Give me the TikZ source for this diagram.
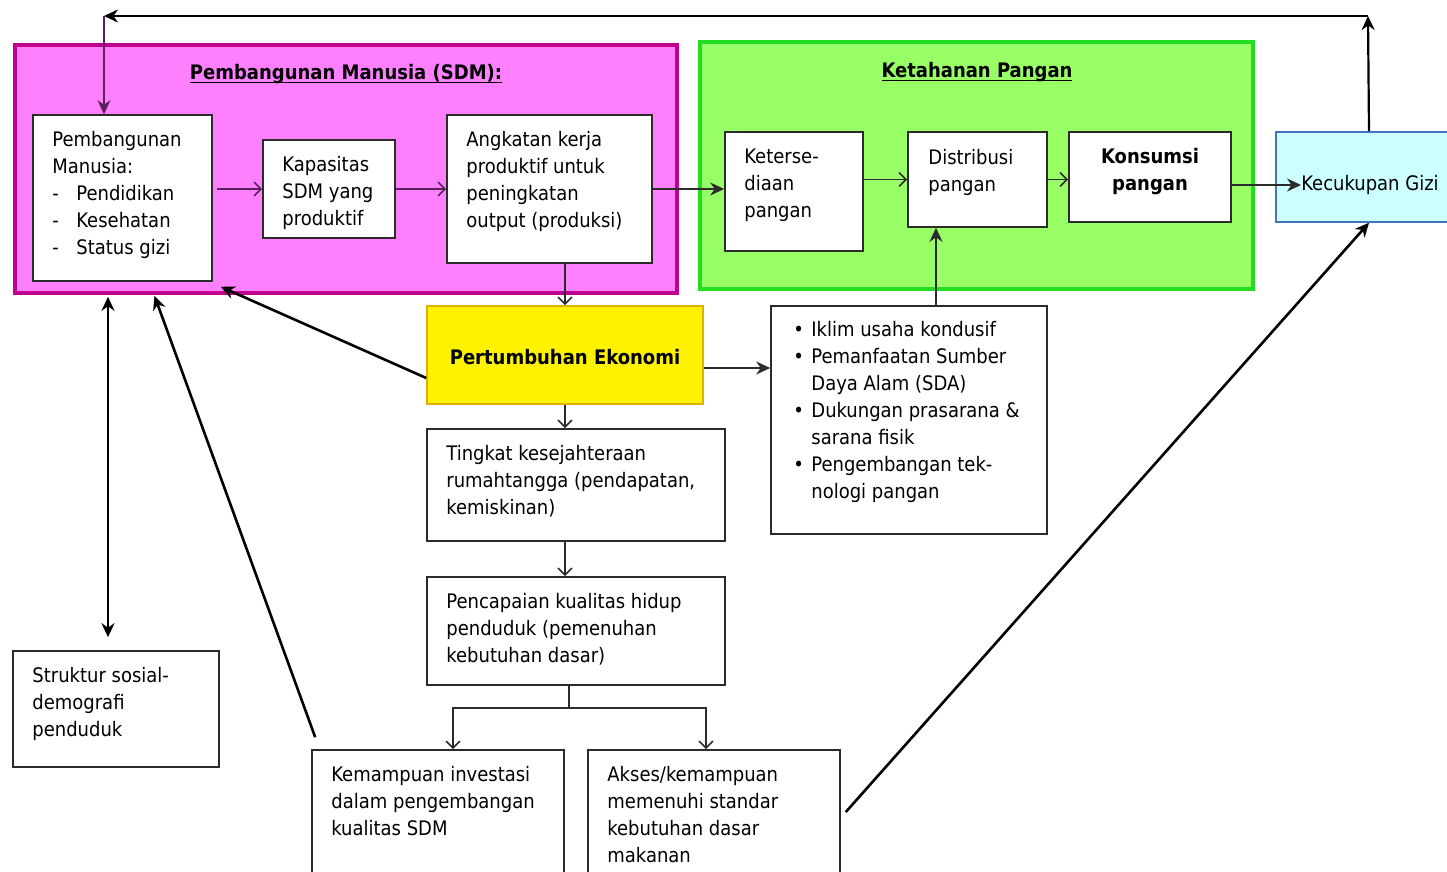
\documentclass[tikz,border=0pt]{standalone}
\usepackage{fontspec}
\setmainfont{DejaVu Sans Condensed}
\usepackage{xcolor}
\usetikzlibrary{arrows.meta,positioning,fit}
\definecolor{ink}{HTML}{2B2B2B}
\definecolor{plum}{HTML}{5A2160}
\definecolor{sdmFill}{HTML}{FF80FF}
\definecolor{sdmLine}{HTML}{C0008C}
\definecolor{panFill}{HTML}{99FF66}
\definecolor{panLine}{HTML}{22DD22}
\definecolor{giziFill}{HTML}{CCFFFF}
\definecolor{giziLine}{HTML}{4472C4}
\definecolor{ekoLine}{HTML}{E0B000}
\newcommand{\dsh}{\makebox[12pt][l]{-}}
\newcommand{\blt}{\makebox[9pt][l]{\textbullet}}
\newcommand{\bsp}{\hspace*{9pt}}
\newcommand{\ttline}[1]{\underline{\smash{#1}}}

\begin{document}
\begin{tikzpicture}[x=0.5pt,y=-0.5pt,font=\fontsize{10}{13.5}\selectfont,
  box/.style={draw=ink,fill=white,line width=0.8pt,inner sep=0pt},
  txt/.style={anchor=north west,align=left,inner sep=0pt},
  ttl/.style={font=\bfseries\fontsize{10}{13.5}\selectfont},
  arr/.style={-{Straight Barb[length=3.5pt,width=7pt]},ink,line width=0.8pt},
  thk/.style={-{Stealth[length=7pt,width=6.5pt]},black,line width=1.3pt}]
\useasboundingbox (0,0) rectangle (1447,872);
% the two big groups
\node[fit={(15,45) (677,293)},inner sep=0pt,draw=sdmLine,fill=sdmFill,line width=1.6pt] (sdm) {};
\node[ttl] (sdm-t) at (346,82) {\ttline{Pembangunan Manusia (SDM):}};
\node[fit={(700,42) (1253,289)},inner sep=0pt,draw=panLine,fill=panFill,line width=1.6pt] (pan) {};
\node[ttl] (pan-t) at (977,80) {\ttline{Ketahanan Pangan}};
% boxes
\node[box,fit={(33,115) (212,281)}] (pm) {};
\node[txt] (pm-t) at (52,131) {Pembangunan\\Manusia:\\\dsh Pendidikan\\\dsh Kesehatan\\\dsh Status gizi};
\node[box,fit={(263,140) (395,238)}] (kap) {};
\node[txt] (kap-t) at (282,156) {Kapasitas\\SDM yang\\produktif};
\node[box,fit={(447,115) (652,263)}] (ang) {};
\node[txt] (ang-t) at (466,131) {Angkatan kerja\\produktif untuk\\peningkatan\\output (produksi)};
\node[box,fit={(725,132) (863,251)}] (ket) {};
\node[txt] (ket-t) at (744,149) {Keterse-\\diaan\\pangan};
\node[box,fit={(908,132) (1047,227)}] (dis) {};
\node[txt] (dis-t) at (928,149) {Distribusi\\pangan};
\node[box,fit={(1069,132) (1231,222)}] (kon) {};
\node[ttl,align=center] (kon-t) at (1150,172) {Konsumsi\\pangan};
\node[box,fit={(1276,132) (1462,222)},draw=giziLine,fill=giziFill] (gizi) {};
\node[anchor=west,inner sep=0pt] (gizi-t) at (1301,185) {Kecukupan Gizi};
\node[box,fit={(427,306) (703,404)},draw=ekoLine,fill=yellow] (eko) {};
\node[ttl] (eko-t) at (565,357) {Pertumbuhan Ekonomi};
\node[box,fit={(771,306) (1047,534)}] (fak) {};
\node[txt] (fak-t) at (793,321) {\blt Iklim usaha kondusif\\\blt Pemanfaatan Sumber\\\bsp Daya Alam (SDA)\\\blt Dukungan prasarana \&\\\bsp sarana fisik\\\blt Pengembangan tek-\\\bsp nologi pangan};
\node[box,fit={(427,429) (725,541)}] (tkt) {};
\node[txt] (tkt-t) at (446,445) {Tingkat kesejahteraan\\rumahtangga (pendapatan,\\kemiskinan)};
\node[box,fit={(427,577) (725,685)}] (pcp) {};
\node[txt] (pcp-t) at (446,593) {Pencapaian kualitas hidup\\penduduk (pemenuhan\\kebutuhan dasar)};
\node[box,fit={(13,651) (219,767)}] (str) {};
\node[txt] (str-t) at (32,667) {Struktur sosial-\\demografi\\penduduk};
\node[box,fit={(312,750) (564,890)}] (inv) {};
\node[txt] (inv-t) at (331,766) {Kemampuan investasi\\dalam pengembangan\\kualitas SDM};
\node[box,fit={(588,750) (840,890)}] (aks) {};
\node[txt] (aks-t) at (607,766) {Akses/kemampuan\\memenuhi standar\\kebutuhan dasar\\makanan};
% feedback loop on top
\coordinate (tr) at (1368,16);
\coordinate (tl) at (104,16);
\draw[thk,line width=1.1pt] (gizi.north) -- (tr);
\draw[thk,line width=1.1pt] (tr) -- (tl);
\draw[thk,line width=1.1pt,plum] (tl) -- (tl |- pm.north);
% flows
\draw[arr,plum] ([xshift=2pt]pm.east |- kap.west) -- (kap.west);
\draw[arr,plum] (kap.east) -- (kap.east -| ang.west);
\draw[thk,line width=1.2pt,ink] (ang.east |- kap.east) -- (ket.west |- kap.east);
\draw[arr] (ket.east |- dis.west) -- (dis.west);
\draw[arr] (dis.east) -- (dis.east -| kon.west);
\draw[thk,line width=1.3pt,ink] (kon.east |- gizi-t.west) -- (gizi-t.west);
\draw[arr] (eko.north |- ang.south) -- (eko.north);
\draw[arr] (eko.south) -- (eko.south |- tkt.north);
\draw[arr] (eko.south |- tkt.south) -- (eko.south |- pcp.north);
\draw[ink,line width=0.8pt] ([xshift=-3.5pt]pcp.south) -- ++(0,22) coordinate (sp);
\draw[arr] (sp) -| ([xshift=7.5pt]inv.north);
\draw[arr] (sp) -| ([xshift=-4pt]aks.north);
\draw[thk,line width=1.2pt,ink] ([yshift=-6.5pt]eko.east) -- ([yshift=-6.5pt]eko.east -| fak.west);
\draw[thk,line width=1.2pt,ink] ([xshift=-20.75pt]dis.south |- fak.north) -- ([xshift=-20.75pt]dis.south);
\draw[thk] ([yshift=-11.5pt]eko.west) -- ([xshift=4pt,yshift=-2.5pt]pm.south east);
\draw[thk] ([xshift=2pt,yshift=6pt]inv.north west) -- ([xshift=16pt,yshift=-7pt]pm.south);
\draw[thk,{Stealth[length=7pt,width=6.5pt]}-{Stealth[length=7pt,width=6.5pt]}] ([xshift=-7.25pt,yshift=-7.5pt]pm.south) -- ([xshift=-4pt,yshift=6.5pt]str.north);
\draw[thk] ([xshift=2.5pt,yshift=4pt]aks.east) -- (gizi.south);
\end{tikzpicture}
\end{document}
